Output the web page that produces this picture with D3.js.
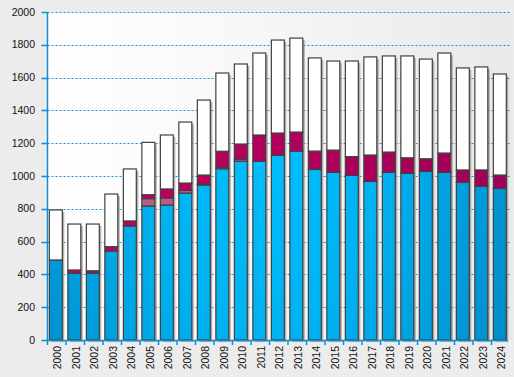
<!DOCTYPE html>
<html><head><meta charset="utf-8">
<script src="https://cdn.jsdelivr.net/npm/d3@7"></script>
<style>html,body{margin:0;padding:0;background:#ececec;}svg{display:block;font-family:"Liberation Sans",Arial,sans-serif;}</style>
</head><body>
<svg id="chart" width="514" height="377"></svg>
<script>
const years = ["2000","2001","2002","2003","2004","2005","2006","2007","2008","2009","2010","2011","2012","2013","2014","2015","2016","2017","2018","2019","2020","2021","2022","2023","2024"];
const blueVals    = [488,408,408,543,695,817,823,896,945,1044,1090,1089,1126,1152,1040,1022,1004,967,1022,1016,1028,1022,961,937,924];
const mauveVals   = [0,0,0,0,0,45,43,16,5,10,12,0,0,0,0,0,0,0,0,0,0,0,0,0,0];
const magentaVals = [0,19,14,26,31,24,55,45,56,97,93,161,136,116,112,136,114,161,124,95,77,118,76,100,82];
const whiteVals   = [305,280,285,321,317,319,329,372,457,477,488,500,567,573,568,543,583,598,586,621,608,610,622,628,616];
const yTicks = [0,200,400,600,800,1000,1200,1400,1600,1800,2000];

const keys = ["blue","mauve","magenta","white"];
const rows = years.map((y,i)=>({year:y, blue:blueVals[i], mauve:mauveVals[i], magenta:magentaVals[i], white:whiteVals[i]}));
const series = d3.stack().keys(keys)(rows);

const svg = d3.select("#chart");
const L = 47.5, R = 510, T = 12, B = 340;
const x = d3.scaleBand().domain(years).range([L, R]).padding(0);
const y = d3.scaleLinear().domain([0, 2000]).range([B, T]);
const step = x.step();
const bw = step * 0.70, boff = step * 0.1;

const defs = svg.append("defs");
const bg = defs.append("linearGradient").attr("id","bg").attr("gradientUnits","userSpaceOnUse")
  .attr("x1",L).attr("y1",0).attr("x2",R).attr("y2",0);
bg.append("stop").attr("offset",0).attr("stop-color","#ffffff");
bg.append("stop").attr("offset",0.35).attr("stop-color","#f9f9f9");
bg.append("stop").attr("offset",1).attr("stop-color","#e9e9e9");

const bl = defs.append("radialGradient").attr("id","blueG").attr("gradientUnits","userSpaceOnUse")
  .attr("cx",265).attr("cy",120).attr("r",300)
  .attr("gradientTransform","translate(265,120) scale(1,1.8) translate(-265,-120)");
bl.append("stop").attr("offset",0).attr("stop-color","#00c0ff");
bl.append("stop").attr("offset",0.4).attr("stop-color","#00b2f2");
bl.append("stop").attr("offset",1).attr("stop-color","#0086c2");

const mg = defs.append("linearGradient").attr("id","magG").attr("gradientUnits","userSpaceOnUse")
  .attr("x1",L).attr("y1",0).attr("x2",R).attr("y2",0);
mg.append("stop").attr("offset",0).attr("stop-color","#c6005e");
mg.append("stop").attr("offset",1).attr("stop-color","#9e0058");

const fills = {blue:"url(#blueG)", mauve:"#b95c8a", magenta:"url(#magG)", white:"#ffffff"};

// plot background
svg.append("rect").attr("x",L).attr("y",T).attr("width",R-L+2).attr("height",B-T).attr("fill","url(#bg)");

// gridlines
svg.append("g").selectAll("line").data(yTicks.filter(d=>d>0)).join("line")
  .attr("x1",L).attr("x2",R).attr("y1",d=>Math.round(y(d))+0.5).attr("y2",d=>Math.round(y(d))+0.5)
  .attr("stroke","#0a93d6").attr("stroke-width",1).attr("stroke-dasharray","2,2");

// shadows
const totals = rows.map(r=>r.blue+r.mauve+r.magenta+r.white);
svg.append("g").selectAll("rect").data(rows).join("rect")
  .attr("x",(d)=>x(d.year)+boff+2).attr("y",(d,i)=>y(totals[i])+2)
  .attr("width",bw).attr("height",(d,i)=>y(0)-y(totals[i]))
  .attr("fill","#8a8a8a").attr("opacity",0.65);

// bars
svg.append("g").selectAll("g").data(series).join("g")
  .attr("fill",s=>fills[s.key])
  .selectAll("rect").data(s=>s.filter(d=>d[1]-d[0]>0)).join("rect")
  .attr("x",d=>x(d.data.year)+boff).attr("y",d=>y(d[1]))
  .attr("width",bw).attr("height",d=>y(d[0])-y(d[1]))
  .attr("stroke","#404040").attr("stroke-width",1.2);

// y axis
const ax = svg.append("g");
ax.append("line").attr("x1",L).attr("x2",L).attr("y1",T).attr("y2",B).attr("stroke","#0a8fd4").attr("stroke-width",1.5);
ax.selectAll("line.t").data(yTicks).join("line").attr("class","t")
  .attr("x1",L-6).attr("x2",L).attr("y1",d=>Math.round(y(d))+0.5).attr("y2",d=>Math.round(y(d))+0.5)
  .attr("stroke","#0a8fd4").attr("stroke-width",1.5);
ax.selectAll("text").data(yTicks).join("text")
  .attr("x",35).attr("y",d=>y(d)).attr("dy","0.35em").attr("text-anchor","end")
  .attr("font-size","10.5px").attr("fill","#111").text(d=>d);

// x axis
const xa = svg.append("g");
xa.append("line").attr("x1",L).attr("x2",R-2).attr("y1",B+0.5).attr("y2",B+0.5).attr("stroke","#0a8fd4").attr("stroke-width",1.5);
xa.selectAll("line.t").data(years).join("line").attr("class","t")
  .attr("x1",d=>x(d)).attr("x2",d=>x(d)).attr("y1",B).attr("y2",B+5)
  .attr("stroke","#0a8fd4").attr("stroke-width",1.5);
xa.selectAll("text").data(years).join("text")
  .attr("transform",d=>`translate(${x(d)+step/2+0.8},${B+6}) rotate(-90)`)
  .attr("dy","0.35em").attr("text-anchor","end")
  .attr("font-size","10.5px").attr("fill","#111").text(d=>d);
</script>
</body></html>
